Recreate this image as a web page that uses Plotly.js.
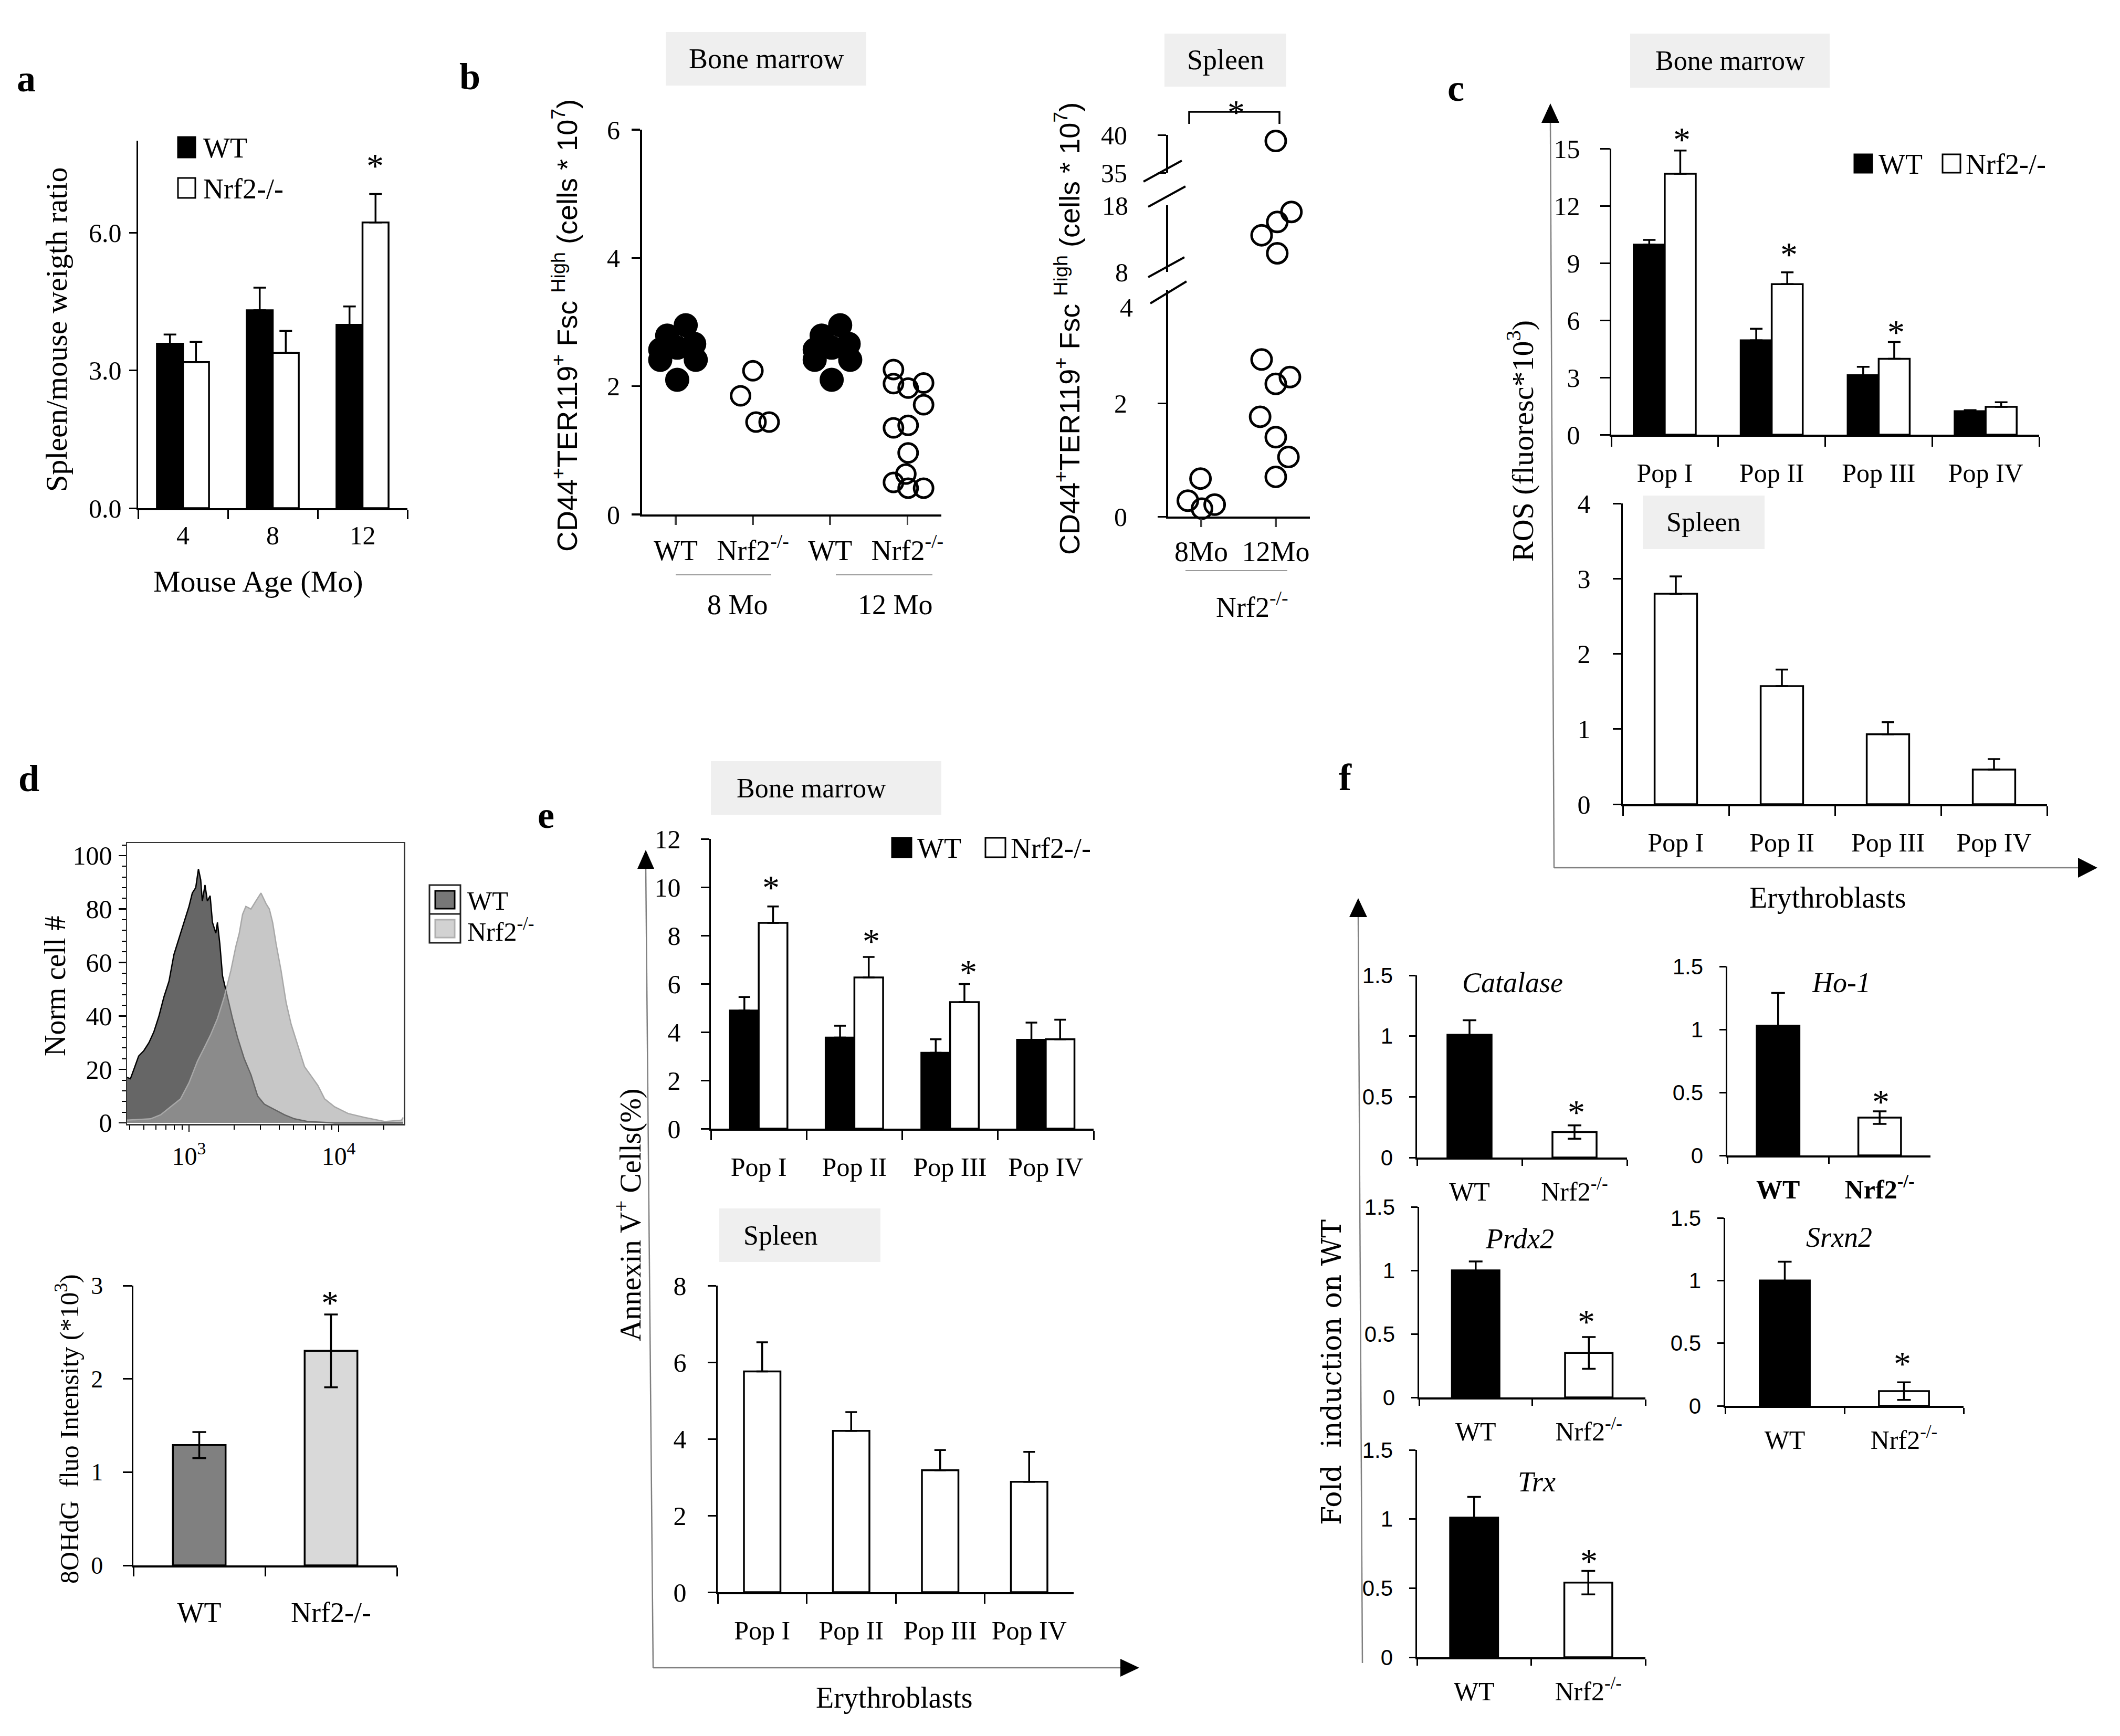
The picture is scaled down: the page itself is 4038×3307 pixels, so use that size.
<!DOCTYPE html>
<html>
<head>
<meta charset="utf-8">
<script src="https://cdn.plot.ly/plotly-3.0.1.min.js"></script>
<style>
  html, body { margin: 0; padding: 0; background: #fff; }
  #fig { width: 4038px; height: 3307px; }
</style>
</head>
<body>
<div id="fig"></div>
<script>
// ---- values ----

// a: spleen / mouse weight ratio
var ageLabels = ['4', '8', '12'];
var ratioWT = [3.58, 4.31, 3.99];
var ratioWTErr = [0.20, 0.49, 0.40];
var ratioKO = [3.18, 3.38, 6.22];
var ratioKOErr = [0.44, 0.48, 0.62];

// b: CD44+TER119+ FscHigh cells, bone marrow (group position + jitter)
var bmGroups = ['WT', 'Nrf2<sup>-/-</sup>', 'WT', 'Nrf2<sup>-/-</sup>'];
var bmWT8 = [2.95, 2.79, 2.66, 2.57, 2.60, 2.41, 2.41, 2.10];
var bmWT8Jit = [0.13, -0.11, 0.24, -0.20, 0.02, 0.26, -0.20, 0.02];
var bmKO8 = [2.24, 1.85, 1.44, 1.44];
var bmKO8Jit = [0.00, -0.16, 0.04, 0.21];
var bmWT12 = [2.95, 2.79, 2.66, 2.57, 2.60, 2.41, 2.41, 2.10];
var bmWT12Jit = [0.13, -0.11, 0.24, -0.20, 0.02, 0.26, -0.20, 0.02];
var bmKO12 = [2.26, 2.04, 1.97, 2.05, 1.71, 1.35, 1.39, 0.96, 0.63, 0.50, 0.41, 0.41];
var bmKO12Jit = [-0.18, -0.18, 0.01, 0.21, 0.21, -0.18, 0.01, 0.01, -0.02, -0.18, 0.01, 0.21];

// b: spleen, Nrf2-/- only
var splGroups = ['8Mo', '12Mo'];
var spl8 = [0.28, 0.67, 0.14, 0.21];
var spl8Jit = [-0.18, -0.01, 0.01, 0.18];
var spl12 = [39.2, 17.0, 15.5, 13.5, 10.8, 2.77, 2.46, 2.34, 1.76, 1.40, 1.05, 0.70];
var spl12Jit = [0.00, 0.21, 0.02, -0.19, 0.02, -0.19, 0.19, 0.00, -0.21, 0.00, 0.17, 0.00];

// c: ROS
var popLabels = ['Pop I', 'Pop II', 'Pop III', 'Pop IV'];
var rosBmWT = [9.96, 4.95, 3.12, 1.23];
var rosBmWTErr = [0.25, 0.60, 0.44, 0.06];
var rosBmKO = [13.68, 7.89, 3.98, 1.46];
var rosBmKOErr = [1.22, 0.62, 0.88, 0.24];
var rosSpleen = [2.80, 1.57, 0.93, 0.46];
var rosSpleenErr = [0.23, 0.22, 0.16, 0.14];

// d: flow histogram (fluorescence, norm cell #)
var histWTx = [385, 406, 428, 461, 499, 540, 582, 630, 679, 735, 793, 857, 925, 1000, 1052, 1109, 1156, 1197, 1227, 1279, 1327, 1384, 1435, 1510, 1549, 1607, 1675, 1807, 1954, 2109, 2339, 2594, 2877, 3184, 3715, 4345, 5070, 6223, 9397, 27000];
var histWTy = [17, 16.5, 20, 25, 27, 30, 34, 40, 47, 53, 63, 69, 75, 81, 86, 88, 95, 91, 83, 89, 83, 85, 75, 71, 75, 67, 55, 47, 39, 32, 24, 18, 10, 7, 5, 3, 1.5, 0.5, 0, 0];
var histKOx = [385, 553, 646, 753, 879, 1000, 1138, 1262, 1396, 1549, 1718, 1905, 2056, 2168, 2280, 2399, 2594, 2799, 3027, 3273, 3443, 3622, 3819, 4121, 4457, 4808, 5333, 5916, 6561, 7261, 8054, 9397, 11561, 14928, 20370, 26303, 27000];
var histKOy = [1, 1.5, 3, 6, 9, 15, 23, 28, 33, 39, 47, 57, 66, 71, 78, 81, 80, 83, 86, 82, 80, 75, 67, 57, 45, 37, 29, 21, 17.5, 14, 9, 6, 3.5, 2, 0.5, 1, 2];
// d: 8OHdG
var ohdgGroups = ['WT', 'Nrf2-/-'];
var ohdgValues = [1.29, 2.30];
var ohdgErr = [0.14, 0.39];

// e: Annexin V+
var annexBmWT = [4.89, 3.77, 3.14, 3.68];
var annexBmWTErr = [0.56, 0.49, 0.56, 0.71];
var annexBmKO = [8.52, 6.26, 5.24, 3.70];
var annexBmKOErr = [0.68, 0.85, 0.75, 0.81];
var annexSpleen = [5.76, 4.21, 3.18, 2.88];
var annexSpleenErr = [0.76, 0.49, 0.53, 0.78];

// f: fold induction on WT
var geneNames = ['Catalase', 'Ho-1', 'Prdx2', 'Srxn2', 'Trx'];
var foldWT = [1.01, 1.03, 1.00, 1.00, 1.01];
var foldWTErr = [0.12, 0.26, 0.07, 0.15, 0.15];
var foldKO = [0.21, 0.30, 0.35, 0.117, 0.54];
var foldKOErr = [0.055, 0.05, 0.125, 0.07, 0.085];

// ---- helpers ----
var W = 4038, H = 3307;
var SERIF = 'Liberation Serif, DejaVu Serif, serif';
var NARROW = 'Liberation Sans Narrow, Liberation Sans, Arial, sans-serif';
var WIDE = 'DejaVu Serif, Liberation Serif, serif';
function px(x) { return x / W; }
function py(y) { return 1 - y / H; }

function catAx(l, r, anchor, n, o) {
  var a = {domain: [px(l), px(r)], anchor: anchor, type: 'category', range: [-0.5, n - 0.5], autorange: false,
    tickson: 'boundaries', ticks: 'outside', ticklen: 18, tickwidth: 3, tickcolor: 'black',
    showline: true, linewidth: 3.5, linecolor: 'black', showgrid: false, zeroline: false,
    tickfont: {family: SERIF, size: 50, color: 'black'}, ticklabelstandoff: 20, fixedrange: true};
  return Object.assign(a, o || {});
}
function valAx(t, b, anchor, range, vals, text, o) {
  var a = {domain: [py(b), py(t)], anchor: anchor, range: range, autorange: false,
    tickmode: 'array', tickvals: vals, ticktext: text, ticks: 'outside', ticklen: 14, tickwidth: 3, tickcolor: 'black',
    showline: true, linewidth: 3.5, linecolor: 'black', showgrid: false, zeroline: false,
    tickfont: {family: SERIF, size: 50, color: 'black'}, ticklabelstandoff: 28, fixedrange: true};
  return Object.assign(a, o || {});
}
function upErr(arr, w) {
  return {type: 'data', symmetric: false, array: arr, arrayminus: arr.map(function () { return 0; }),
    color: 'black', thickness: 3.5, width: w};
}
function bothErr(arr, w) {
  return {type: 'data', array: arr, color: 'black', thickness: 3.5, width: w};
}
function bar(x, y, xa, ya, color, width, offset, err) {
  return {type: 'bar', x: x, y: y, xaxis: xa, yaxis: ya, width: width, offset: offset,
    marker: {color: color, line: {color: 'black', width: 3.5}}, error_y: err, hoverinfo: 'skip'};
}
function dots(vals, jit, pos, xa, ya, filled, size) {
  return {type: 'scatter', mode: 'markers', xaxis: xa, yaxis: ya,
    x: jit.map(function (j) { return pos + j; }), y: vals,
    marker: filled ? {symbol: 'circle', size: size, color: 'black', line: {color: 'black', width: 2}}
                   : {symbol: 'circle-open', size: size, color: 'black', line: {width: 5}},
    cliponaxis: false, hoverinfo: 'skip'};
}
// split the broken spleen axis into its three value bands
function band(vals, jit, lo, hi) {
  var v = [], j = [];
  vals.forEach(function (d, i) { if (d >= lo && d <= hi) { v.push(d); j.push(jit[i]); } });
  return {v: v, j: j};
}
function txt(x, y, s, size, o) {
  return Object.assign({xref: 'paper', yref: 'paper', x: px(x), y: py(y), text: s, showarrow: false,
    xanchor: 'center', yanchor: 'middle', font: {family: SERIF, size: size, color: 'black'}}, o || {});
}
function vtxt(x, y, s, size, fam) {
  return txt(x, y, s, size, {textangle: -90, font: {family: fam || SERIF, size: size, color: 'black'}});
}
function rect(x0, y0, x1, y1, fill, line, lw) {
  return {type: 'rect', xref: 'paper', yref: 'paper', x0: px(x0), x1: px(x1), y0: py(y0), y1: py(y1),
    fillcolor: fill, line: {color: line || 'rgba(0,0,0,0)', width: lw || 0}, layer: 'below'};
}
function seg(x0, y0, x1, y1, color, w) {
  return {type: 'line', xref: 'paper', yref: 'paper', x0: px(x0), x1: px(x1), y0: py(y0), y1: py(y1),
    line: {color: color, width: w}};
}
function poly(pts, fill, line, w) {
  var d = pts.map(function (p, i) { return (i ? 'L' : 'M') + px(p[0]) + ',' + py(p[1]); }).join(' ') + (fill ? ' Z' : '');
  return {type: 'path', xref: 'paper', yref: 'paper', path: d,
    fillcolor: fill || 'rgba(0,0,0,0)', line: {color: line || 'black', width: w || 0}};
}

var traces = [];
var ann = [];
var shapes = [];

// ---- a ----
traces.push(bar(ageLabels, ratioWT, 'x', 'y', 'black', 0.29, -0.29, upErr(ratioWTErr, 12)));
traces.push(bar(ageLabels, ratioKO, 'x', 'y', 'white', 0.29, 0, upErr(ratioKOErr, 12)));

// ---- b bone marrow ----
traces.push(dots(bmWT8, bmWT8Jit, 1, 'x2', 'y2', true, 44));
traces.push(dots(bmKO8, bmKO8Jit, 2, 'x2', 'y2', false, 36));
traces.push(dots(bmWT12, bmWT12Jit, 3, 'x2', 'y2', true, 44));
traces.push(dots(bmKO12, bmKO12Jit, 4, 'x2', 'y2', false, 36));

// ---- b spleen (broken axis: 0-4, 8-18, 35-40) ----
[[0, 4, 'y3'], [8, 18, 'y4'], [35, 40, 'y5']].forEach(function (bd) {
  var s8 = band(spl8, spl8Jit, bd[0], bd[1]);
  var s12 = band(spl12, spl12Jit, bd[0], bd[1]);
  if (s8.v.length) traces.push(dots(s8.v, s8.j, 1, 'x3', bd[2], false, 38));
  if (s12.v.length) traces.push(dots(s12.v, s12.j, 2, 'x3', bd[2], false, 38));
});

// ---- c ----
traces.push(bar(popLabels, rosBmWT, 'x4', 'y6', 'black', 0.29, -0.29, upErr(rosBmWTErr, 12)));
traces.push(bar(popLabels, rosBmKO, 'x4', 'y6', 'white', 0.29, 0, upErr(rosBmKOErr, 12)));
traces.push(bar(popLabels, rosSpleen, 'x5', 'y7', 'white', 0.4, -0.2, upErr(rosSpleenErr, 12)));

// ---- d ----
traces.push({type: 'scatter', mode: 'lines', x: histWTx, y: histWTy, xaxis: 'x6', yaxis: 'y8',
  fill: 'tozeroy', fillcolor: '#666666', line: {color: 'black', width: 2.5}, hoverinfo: 'skip'});
traces.push({type: 'scatter', mode: 'lines', x: histKOx, y: histKOy, xaxis: 'x6', yaxis: 'y8',
  fill: 'tozeroy', fillcolor: 'rgba(164,164,164,0.61)', line: {color: '#a8a8a8', width: 2.5}, hoverinfo: 'skip'});
traces.push({type: 'bar', x: ohdgGroups, y: ohdgValues, xaxis: 'x7', yaxis: 'y9', width: 0.4, offset: -0.2,
  marker: {color: ['#808080', '#d9d9d9'], line: {color: 'black', width: 3.5}}, error_y: bothErr(ohdgErr, 13), hoverinfo: 'skip'});

// ---- e ----
traces.push(bar(popLabels, annexBmWT, 'x8', 'y10', 'black', 0.3, -0.3, upErr(annexBmWTErr, 11)));
traces.push(bar(popLabels, annexBmKO, 'x8', 'y10', 'white', 0.3, 0, upErr(annexBmKOErr, 11)));
traces.push(bar(popLabels, annexSpleen, 'x9', 'y11', 'white', 0.41, -0.205, upErr(annexSpleenErr, 11)));

// ---- f ----
var koLabel = 'Nrf2<sup>-/-</sup>';
geneNames.forEach(function (g, i) {
  var xa = 'x' + (10 + i), ya = 'y' + (12 + i);
  traces.push(bar(['WT'], [foldWT[i]], xa, ya, 'black', 0.42, -0.21, bothErr([foldWTErr[i]], 13)));
  traces.push(bar([koLabel], [foldKO[i]], xa, ya, 'white', 0.42, -0.21, bothErr([foldKOErr[i]], 13)));
});

// ---- layout / axes ----
var layout = {
  width: W, height: H, margin: {l: 0, r: 0, t: 0, b: 0},
  paper_bgcolor: 'white', plot_bgcolor: 'rgba(0,0,0,0)',
  showlegend: false, barmode: 'group',
  font: {family: SERIF, color: 'black'},

  xaxis: catAx(263, 776, 'y', 3, {ticklen: 17, ticklabelstandoff: 5}),
  yaxis: valAx(268, 968, 'x', [0, 8], [0, 3, 6], ['0.0', '3.0', '6.0'], {ticklabelstandoff: 4}),

  xaxis2: {domain: [px(1223), px(1793)], anchor: 'y2', range: [0.565, 4.44], autorange: false,
    tickmode: 'array', tickvals: [1, 2, 3, 4], ticktext: bmGroups, ticks: 'outside', ticklen: 16, tickwidth: 3.5,
    showline: true, linewidth: 4, linecolor: 'black', showgrid: false, zeroline: false, ticklabelstandoff: 2,
    tickfont: {family: SERIF, size: 54, color: 'black'}},
  yaxis2: valAx(247, 980, 'x2', [0, 6], [0, 2, 4, 6], ['0', '2', '4', '6'], {linewidth: 4, ticklen: 16, ticklabelstandoff: 12, tickwidth: 3.5}),

  xaxis3: {domain: [px(2225), px(2495)], anchor: 'y3', range: [0.556, 2.458], autorange: false,
    tickmode: 'array', tickvals: [1, 2], ticktext: splGroups, ticks: 'outside', ticklen: 16, tickwidth: 3.5,
    showline: true, linewidth: 4, linecolor: 'black', showgrid: false, zeroline: false, ticklabelstandoff: 0,
    tickfont: {family: SERIF, size: 54, color: 'black'}},
  yaxis3: valAx(552, 984, 'x3', [0, 4], [0, 2], ['0', '2'], {linewidth: 4, ticklen: 16, ticklabelstandoff: 48, tickfont: {family: SERIF, size: 50}}),
  yaxis4: valAx(391, 518, 'x3', [8, 18], [8, 18], ['8', '18'], {linewidth: 4, ticks: '', ticklabelstandoff: 62, tickfont: {family: SERIF, size: 50}}),
  yaxis5: valAx(257, 329, 'x3', [35, 40], [35, 40], ['35', '40'], {linewidth: 4, ticklen: 16, ticklabelstandoff: 48, tickfont: {family: SERIF, size: 50}}),

  xaxis4: catAx(3069, 3884, 'y6', 4, {ticklen: 19, ticklabelstandoff: 26}),
  yaxis6: valAx(283, 828, 'x4', [0, 15], [0, 3, 6, 9, 12, 15], ['0', '3', '6', '9', '12', '15'], {ticklen: 18}),

  xaxis5: catAx(3091, 3899, 'y7', 4, {ticklen: 18, ticklabelstandoff: 26}),
  yaxis7: valAx(959, 1532, 'x5', [0, 4], [0, 1, 2, 3, 4], ['0', '1', '2', '3', '4'], {ticklen: 16, ticklabelstandoff: 32}),

  xaxis6: {domain: [px(242), px(769)], anchor: 'y8', type: 'log', range: [2.586, 4.435], autorange: false,
    tickmode: 'array', tickvals: [1000, 10000], ticktext: ['10<sup>3</sup>', '10<sup>4</sup>'],
    ticks: 'outside', ticklen: 12, tickwidth: 2.5, tickcolor: 'black',
    minor: {tickmode: 'array', tickvals: [400, 500, 600, 700, 800, 900, 2000, 3000, 4000, 5000, 6000, 7000, 8000, 9000, 20000],
      ticks: 'outside', ticklen: 8, tickwidth: 2, tickcolor: 'black', showgrid: false},
    showline: true, mirror: true, linewidth: 2.5, linecolor: '#333', showgrid: false, zeroline: false,
    ticklabelstandoff: 6, tickfont: {family: SERIF, size: 48, color: 'black'}},
  yaxis8: {domain: [py(2141), py(1606)], anchor: 'x6', range: [-0.4, 104.7], autorange: false,
    tickmode: 'array', tickvals: [0, 20, 40, 60, 80, 100], ticks: 'outside', ticklen: 14, tickwidth: 2.5, tickcolor: 'black',
    minor: {dtick: 4, ticks: 'outside', ticklen: 8, tickwidth: 2, tickcolor: 'black', showgrid: false},
    showline: true, mirror: true, linewidth: 2.5, linecolor: '#333', showgrid: false, zeroline: false,
    ticklabelstandoff: 2, tickfont: {family: SERIF, size: 50, color: 'black'}},

  xaxis7: catAx(254, 756, 'y9', 2, {ticklen: 17, ticklabelstandoff: 40, tickfont: {family: SERIF, size: 54, color: 'black'}}),
  yaxis9: valAx(2449, 2982, 'x7', [0, 3], [0, 1, 2, 3], ['0', '1', '2', '3'], {ticklen: 17, tickfont: {family: SERIF, size: 46, color: 'black'}}),

  xaxis8: catAx(1354, 2083, 'y10', 4, {ticklen: 18, ticklabelstandoff: 26}),
  yaxis10: valAx(1598, 2150, 'x8', [0, 12], [0, 2, 4, 6, 8, 10, 12], ['0', '2', '4', '6', '8', '10', '12'], {ticklen: 16}),

  xaxis9: catAx(1367, 2045, 'y11', 4, {ticklen: 18, ticklabelstandoff: 26}),
  yaxis11: valAx(2449, 3033, 'x9', [0, 8], [0, 2, 4, 6, 8], ['0', '2', '4', '6', '8'], {ticklen: 16, ticklabelstandoff: 30}),

  annotations: ann,
  shapes: shapes
};

var fBoxes = [
  {l: 2699, r: 3099, t: 1858, b: 2205, bold: false},
  {l: 3290, r: 3677, t: 1841, b: 2201, bold: true},
  {l: 2703, r: 3134, t: 2299, b: 2662, bold: false},
  {l: 3286, r: 3740, t: 2320, b: 2678, bold: false},
  {l: 2699, r: 3134, t: 2762, b: 3157, bold: false}
];
fBoxes.forEach(function (bx, i) {
  layout['xaxis' + (10 + i)] = catAx(bx.l, bx.r, 'y' + (12 + i), 2, {ticklen: 12, ticklabelstandoff: 18,
    tickfont: {family: SERIF, size: 50, color: 'black', weight: bx.bold ? 'bold' : 'normal'}});
  layout['yaxis' + (12 + i)] = valAx(bx.t, bx.b, 'x' + (10 + i), [0, 1.5], [0, 0.5, 1, 1.5], ['0', '0.5', '1', '1.5'],
    {ticklen: 12, ticklabelstandoff: 22, tickfont: {family: NARROW, size: 42, color: 'black'}});
});

// ---- panel letters ----
[['a', 50, 150], ['b', 895, 146], ['c', 2773, 168], ['d', 55, 1483], ['e', 1040, 1553], ['f', 2562, 1481]].forEach(function (p) {
  ann.push(txt(p[1], p[2], '<b>' + p[0] + '</b>', 72));
});

// ---- grey tissue boxes ----
[[1268, 61, 1650, 163, 'Bone marrow', 1459, 54], [2218, 64, 2450, 165, 'Spleen', 2334, 54],
 [3105, 64, 3485, 167, 'Bone marrow', 3295, 52], [3129, 944, 3361, 1046, 'Spleen', 3245, 52],
 [1354, 1450, 1793, 1552, 'Bone marrow', 1545, 52], [1370, 2302, 1677, 2404, 'Spleen', 1487, 52]].forEach(function (b) {
  shapes.push(rect(b[0], b[1], b[2], b[3], '#efefef'));
  ann.push(txt(b[5], (b[1] + b[3]) / 2, b[4], b[6]));
});

// ---- axis titles ----
ann.push(vtxt(107, 628, 'Spleen/mouse weigth ratio', 58));
ann.push(txt(492, 1107, 'Mouse Age (Mo)', 58));
var cdTitle = 'CD44<sup>+</sup>TER119<sup>+</sup> Fsc <sup>High</sup> (cells * 10<sup>7</sup>)';
ann.push(vtxt(1076, 620, cdTitle, 54, NARROW));
ann.push(vtxt(2033, 626, cdTitle, 54, NARROW));
ann.push(txt(2160, 586, '4', 50, {xanchor: 'right'}));  // label below the first axis break
ann.push(txt(1405, 1152, '8 Mo', 54));
ann.push(txt(1705, 1152, '12 Mo', 54));
ann.push(txt(2385, 1152, 'Nrf2<sup>-/-</sup>', 54));
ann.push(vtxt(2896, 840, 'ROS (fluoresc*10<sup>3</sup>)', 58));
ann.push(txt(3481, 1710, 'Erythroblasts', 56));
ann.push(vtxt(105, 1879, 'Norm cell #', 56));
ann.push(vtxt(128, 2722, '8OHdG  fluo Intensity (*10<sup>3</sup>)', 50));
ann.push(vtxt(1197, 2315, 'Annexin V<sup>+</sup> Cells(%)', 56));
ann.push(txt(1703, 3234, 'Erythroblasts', 56));
ann.push(vtxt(2536, 2614, 'Fold  induction on WT', 52, WIDE));
[[2881, 1872], [3507, 1872], [2894, 2360], [3503, 2357], [2927, 2823]].forEach(function (p, i) {
  ann.push(txt(p[0], p[1], '<i>' + geneNames[i] + '</i>', 54));
});

// ---- significance stars ----
[[714, 315], [2354, 213], [3203, 265], [3407, 484], [3611, 632], [628, 2481],
 [1468, 1690], [1659, 1792], [1844, 1851], [3002, 2118], [3582, 2098], [3021, 2517], [3623, 2597], [3026, 2973]].forEach(function (p) {
  ann.push(txt(p[0], p[1], '*', 66));
});

// ---- legends ----
shapes.push(rect(339, 261, 372, 300, 'black', 'black', 3));
shapes.push(rect(339, 339, 372, 377, 'white', 'black', 3));
ann.push(txt(385, 282, 'WT', 54, {xanchor: 'left'}));
ann.push(txt(385, 360, 'Nrf2-/-', 54, {xanchor: 'left'}));

shapes.push(rect(3532, 294, 3566, 329, 'black', 'black', 3));
shapes.push(rect(3700, 294, 3734, 329, 'white', 'black', 3));
ann.push(txt(3576, 313, 'WT', 54, {xanchor: 'left'}));
ann.push(txt(3742, 313, 'Nrf2-/-', 54, {xanchor: 'left'}));

shapes.push(rect(1699, 1596, 1736, 1633, 'black', 'black', 3));
shapes.push(rect(1877, 1596, 1915, 1633, 'white', 'black', 3));
ann.push(txt(1745, 1616, 'WT', 54, {xanchor: 'left'}));
ann.push(txt(1923, 1616, 'Nrf2-/-', 54, {xanchor: 'left'}));

shapes.push(rect(818, 1686, 877, 1796, 'white', '#222', 3));
shapes.push(seg(818, 1741, 877, 1741, '#222', 3));
shapes.push(rect(829, 1697, 866, 1731, '#777777', 'black', 3));
shapes.push(rect(829, 1752, 866, 1786, '#d2d2d2', '#b0b0b0', 3));
ann.push(txt(888, 1716, 'WT', 50, {xanchor: 'left'}));
ann.push(txt(888, 1772, 'Nrf2<sup>-/-</sup>', 50, {xanchor: 'left'}));

// ---- group underlines, spleen bracket, axis breaks ----
shapes.push(seg(1287, 1095, 1469, 1095, '#999', 2));
shapes.push(seg(1592, 1095, 1776, 1095, '#999', 2));
shapes.push(seg(2258, 1087, 2452, 1087, '#999', 2));
shapes.push(poly([[2265, 236], [2265, 213], [2437, 213], [2437, 236]], null, 'black', 3.5));
shapes.push(seg(2191, 578, 2260, 536, 'black', 4));
shapes.push(seg(2187, 528, 2256, 490, 'black', 4));
shapes.push(seg(2187, 394, 2258, 355, 'black', 4));
shapes.push(seg(2178, 346, 2251, 306, 'black', 4));

// ---- erythroblast arrows ----
shapes.push(seg(2953, 230, 2960, 1653, '#808080', 2.5));
shapes.push(seg(2960, 1653, 3962, 1653, '#808080', 2.5));
shapes.push(poly([[2953, 197], [2936, 234], [2970, 234]], 'black'));
shapes.push(poly([[3995, 1653], [3958, 1634], [3958, 1672]], 'black'));
shapes.push(seg(1230, 1652, 1244, 3177, '#808080', 2.5));
shapes.push(seg(1244, 3177, 2136, 3177, '#808080', 2.5));
shapes.push(poly([[1230, 1619], [1214, 1655], [1246, 1655]], 'black'));
shapes.push(poly([[2170, 3177], [2134, 3160], [2134, 3194]], 'black'));
shapes.push(seg(2587, 1745, 2595, 3168, '#808080', 2.5));
shapes.push(poly([[2587, 1711], [2570, 1747], [2604, 1747]], 'black'));

Plotly.newPlot('fig', traces, layout, {staticPlot: true, displayModeBar: false});
</script>
</body>
</html>
